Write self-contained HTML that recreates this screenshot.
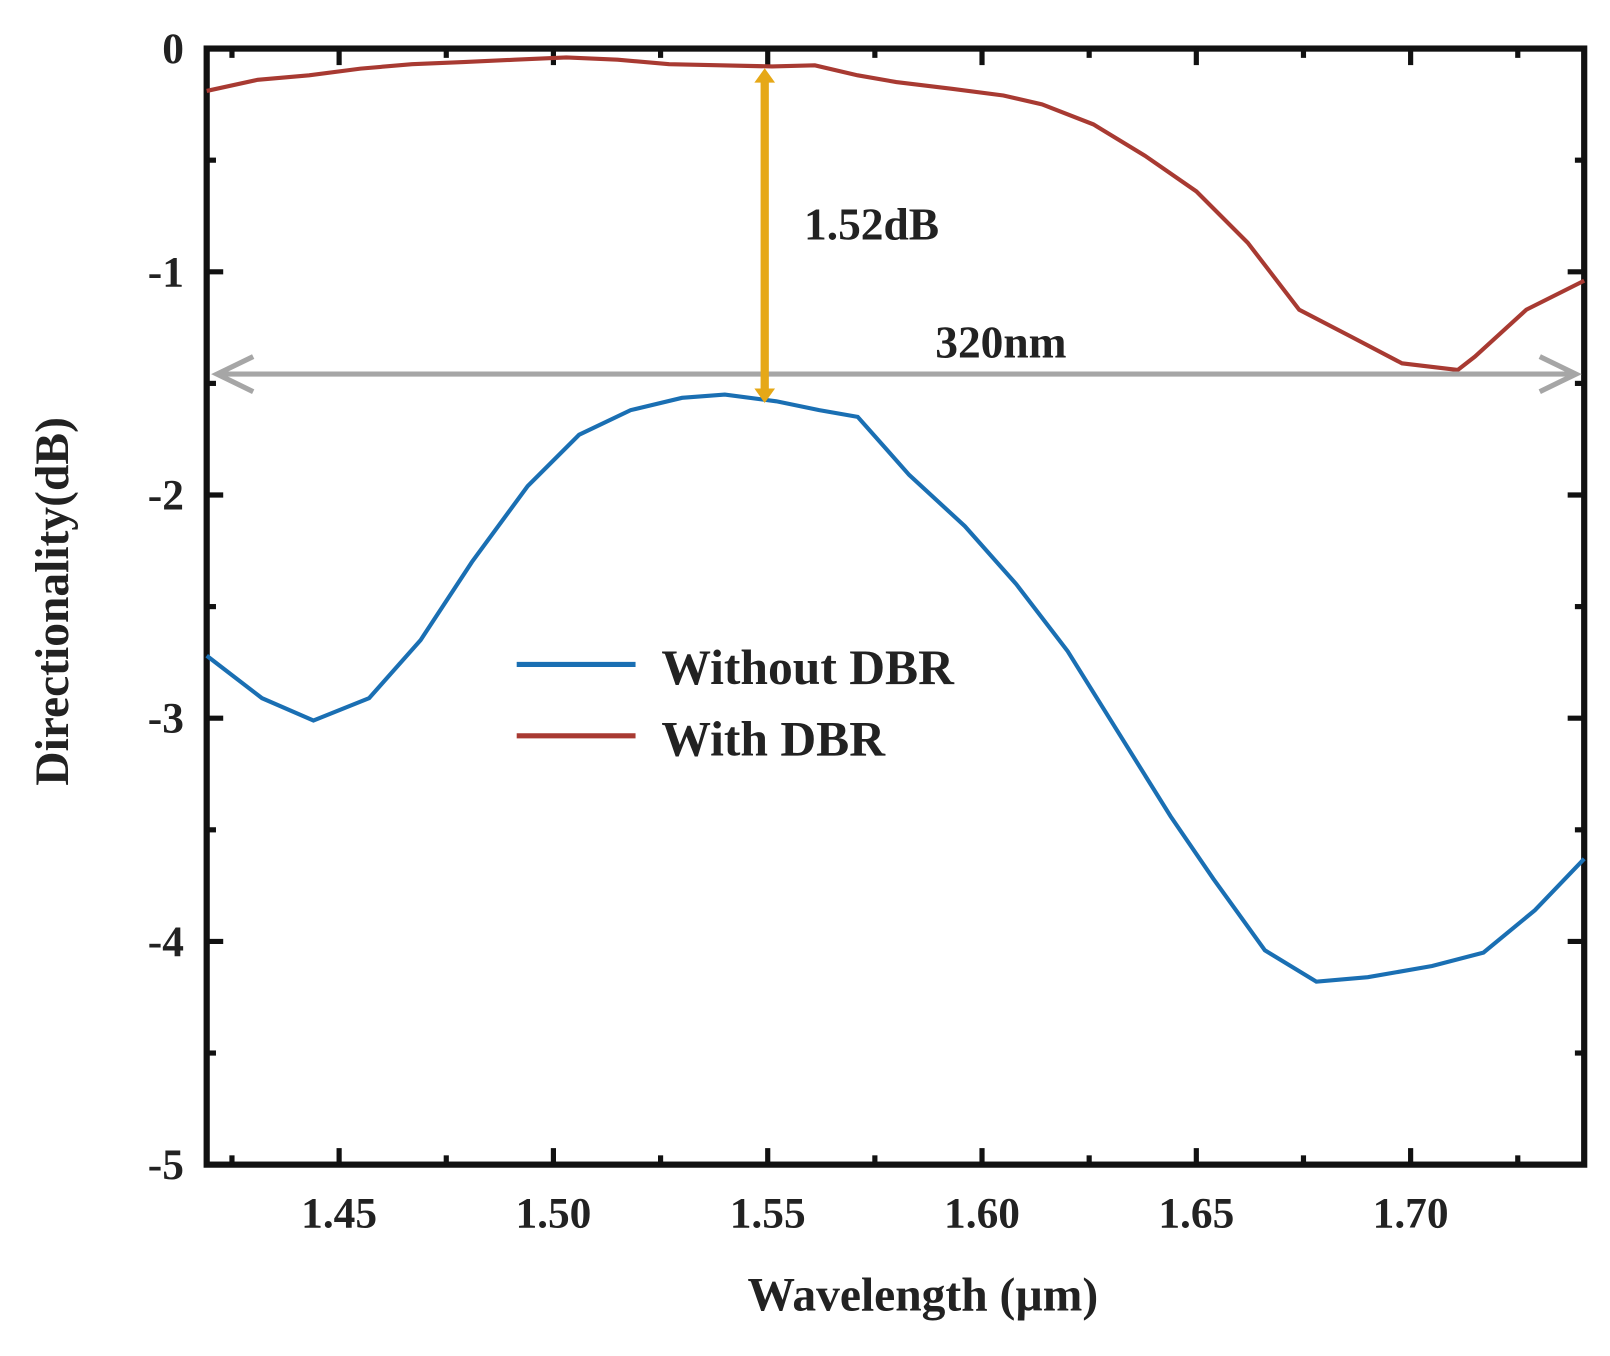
<!DOCTYPE html>
<html><head><meta charset="utf-8"><style>
html,body{margin:0;padding:0;background:#fff}
svg text{font-family:"Liberation Serif",serif;font-weight:bold;fill:#222}
</style></head><body>
<svg width="1610" height="1351" viewBox="0 0 1610 1351">
<g transform="scale(1.0334)">
<g id="axes"></g>
<g id="plot"></g>
<g id="annot"></g>
</g>
</svg>
<script>
const NS="http://www.w3.org/2000/svg";
const xTicks=[1.45,1.50,1.55,1.60,1.65,1.70];
const xTickLabels=["1.45","1.50","1.55","1.60","1.65","1.70"];
const yTicks=[0,-1,-2,-3,-4,-5];
const yTickLabels=["0","-1","-2","-3","-4","-5"];
const blueX=[1.4191,1.432,1.444,1.457,1.469,1.481,1.494,1.506,1.518,1.530,1.540,1.552,1.562,1.571,1.583,1.596,1.608,1.620,1.632,1.644,1.654,1.666,1.678,1.690,1.705,1.717,1.729,1.7405];
const blueY=[-2.72,-2.91,-3.01,-2.91,-2.65,-2.30,-1.96,-1.73,-1.62,-1.565,-1.55,-1.58,-1.62,-1.65,-1.91,-2.14,-2.40,-2.70,-3.07,-3.44,-3.72,-4.04,-4.18,-4.16,-4.11,-4.05,-3.86,-3.63];
const redX=[1.4191,1.431,1.443,1.455,1.467,1.479,1.491,1.503,1.515,1.527,1.539,1.551,1.561,1.571,1.580,1.593,1.605,1.614,1.626,1.638,1.650,1.662,1.674,1.686,1.698,1.711,1.715,1.727,1.7405];
const redY=[-0.19,-0.14,-0.12,-0.09,-0.07,-0.06,-0.05,-0.04,-0.05,-0.07,-0.075,-0.08,-0.075,-0.12,-0.15,-0.18,-0.21,-0.25,-0.34,-0.48,-0.64,-0.87,-1.17,-1.29,-1.41,-1.44,-1.38,-1.17,-1.04];
const L=200,R=1533,T=47,B=1127;
const X0=1.4191,X1=1.7405,Y0=-5,Y1=0;
const xs=v=>L+(v-X0)/(X1-X0)*(R-L);
const ys=v=>B-(v-Y0)/(Y1-Y0)*(B-T);
function mk(p,tag,at,txt){const e=document.createElementNS(NS,tag);for(const k in at)e.setAttribute(k,at[k]);if(txt!==undefined)e.textContent=txt;p.appendChild(e);return e;}
const ax=document.getElementById('axes'),pl=document.getElementById('plot'),an=document.getElementById('annot');
let fr=mk(ax,'rect',{x:L,y:T,width:R-L,height:B-T,fill:'none',stroke:'#111','stroke-width':6});

for(let v=1.425;v<=1.74;v+=0.025){const major=Math.abs((v*1000)%50)<1||Math.abs((v*1000)%50-50)<1;const len=major?16:9;const px=xs(v);
 mk(ax,'line',{x1:px,y1:B,x2:px,y2:B-len,stroke:'#111','stroke-width':5});
 mk(ax,'line',{x1:px,y1:T,x2:px,y2:T+len,stroke:'#111','stroke-width':5});}
xTicks.forEach((v,i)=>{const t=mk(ax,'text',{x:xs(v),y:1188,'text-anchor':'middle','font-size':42},xTickLabels[i]);
 });
for(let v=-4.5;v<0;v+=0.5){const major=Number.isInteger(v);const len=major?16:9;const py=ys(v);
 mk(ax,'line',{x1:L,y1:py,x2:L+len,y2:py,stroke:'#111','stroke-width':5});
 mk(ax,'line',{x1:R,y1:py,x2:R-len,y2:py,stroke:'#111','stroke-width':5});}
yTicks.forEach((v,i)=>{const t=mk(ax,'text',{x:178,y:ys(v)+14,'text-anchor':'end','font-size':42},yTickLabels[i]);
 });
let xl=mk(ax,'text',{x:893,y:1268,'text-anchor':'middle','font-size':46},'Wavelength (µm)');

let yl=mk(ax,'text',{x:0,y:0,'text-anchor':'middle','font-size':46,transform:'translate(66,582) rotate(-90)'},'Directionality(dB)');

function line(xa,ya){return xa.map((v,i)=>(i?'L':'M')+xs(v).toFixed(1)+','+ys(ya[i]).toFixed(1)).join('');}
let bl=mk(pl,'path',{d:line(blueX,blueY),fill:'none',stroke:'#1a6fb3','stroke-width':4});

let rl=mk(pl,'path',{d:line(redX,redY),fill:'none',stroke:'#a83a32','stroke-width':4});

let ga=mk(an,'g',{});
mk(ga,'line',{x1:210,y1:362,x2:1525,y2:362,stroke:'#a6a6a6','stroke-width':5});
mk(ga,'polyline',{points:'245,345 210,362 245,379',fill:'none',stroke:'#a6a6a6','stroke-width':5});
mk(ga,'polyline',{points:'1490,345 1525,362 1490,379',fill:'none',stroke:'#a6a6a6','stroke-width':5});
let t2=mk(an,'text',{x:905,y:346,'font-size':44},'320nm');
let ya=mk(an,'g',{});
mk(ya,'line',{x1:740,y1:76,x2:740,y2:380,stroke:'#e6a817','stroke-width':8});
mk(ya,'polygon',{points:'730,80 740,66 750,80',fill:'#e6a817'});
mk(ya,'polygon',{points:'730,376 740,390 750,376',fill:'#e6a817'});
let t1=mk(an,'text',{x:778,y:232,'font-size':44},'1.52dB');
let lg=mk(an,'g',{});
mk(lg,'line',{x1:500,y1:643,x2:615,y2:643,stroke:'#1a6fb3','stroke-width':5});
mk(lg,'text',{x:640,y:662,'font-size':48},'Without DBR');
mk(lg,'line',{x1:500,y1:712,x2:615,y2:712,stroke:'#a83a32','stroke-width':5});
mk(lg,'text',{x:640,y:731,'font-size':48},'With DBR');
</script>
</body></html>
